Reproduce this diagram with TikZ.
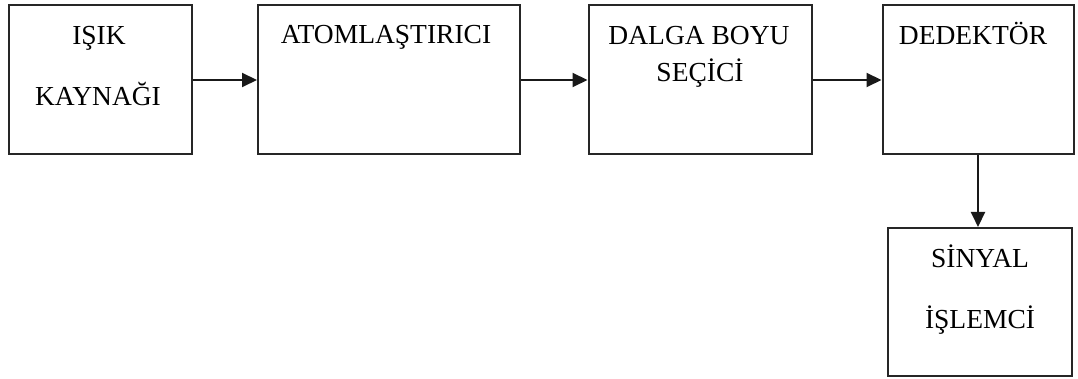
\documentclass[tikz,border=0pt]{standalone}
\usepackage{fontspec}
\setmainfont{Liberation Serif}
\usetikzlibrary{arrows.meta}
\begin{document}
\begin{tikzpicture}[x=1pt,y=-1pt,
  blk/.style={draw=black!85,line width=2pt,inner sep=0pt},
  lbl/.style={anchor=base,inner sep=0pt,font=\fontsize{27.5}{30}\selectfont},
  conn/.style={draw=black!90,line width=2pt,-{Triangle[length=15pt,width=14pt]}}]
\useasboundingbox (0,0) rectangle (1078,379);
\node[blk,minimum width=183pt,minimum height=149pt] (b1) at (100,80) {};
\node[blk,minimum width=262pt,minimum height=149pt] (b2) at (389,80) {};
\node[blk,minimum width=223pt,minimum height=149pt] (b3) at (700,80) {};
\node[blk,minimum width=191pt,minimum height=149pt] (b4) at (978,80) {};
\node[blk,minimum width=184pt,minimum height=148pt] (b5) at (980,302) {};
\node[lbl] (t1a) at (99,45) {IŞIK};
\node[lbl] (t1b) at (98,106) {KAYNAĞI};
\node[lbl] (t2) at (386,44) {ATOMLAŞTIRICI};
\node[lbl] (t3a) at (699,45) {DALGA BOYU};
\node[lbl] (t3b) at (700,82) {SEÇİCİ};
\node[lbl] (t4) at (973,45) {DEDEKTÖR};
\node[lbl] (t5a) at (980,267) {SİNYAL};
\node[lbl] (t5b) at (980,328) {İŞLEMCİ};
\draw[conn] (b1.east) -- (b2.west);
\draw[conn] (b2.east) -- (b3.west);
\draw[conn] (b3.east) -- (b4.west);
\draw[conn] (b4.south) -- (b4.south |- b5.north);
\end{tikzpicture}
\end{document}
